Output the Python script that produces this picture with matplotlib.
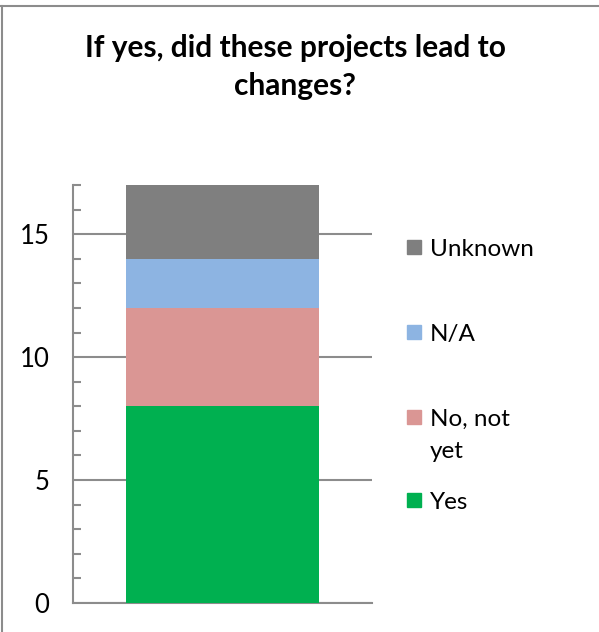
import matplotlib.pyplot as plt
from matplotlib.patches import Rectangle
from matplotlib.lines import Line2D

# Data (stacked from bottom to top)
categories = ['Yes', 'No, not\nyet', 'N/A', 'Unknown']
values = [8, 4, 2, 3]
colors = ['#00b050', '#da9694', '#8db4e2', '#7f7f7f']
y_ticks = [0, 5, 10, 15]
title = 'If yes, did these projects lead to\nchanges?'

plt.rcParams['font.family'] = ['Lato', 'DejaVu Sans']

fig = plt.figure(figsize=(5.99, 6.32), dpi=100)
W, H = 599, 632

# axes placed in pixel coordinates of the reference
ax = fig.add_axes([73 / W, (H - 603) / H, (372 - 73) / W, (603 - 185) / H])

# stacked bar
bottom = 0
for v, c in zip(values, colors):
    ax.bar(0, v, width=0.645, bottom=bottom, color=c, zorder=3)
    bottom += v

ax.set_xlim(-0.5, 0.5)
ax.set_ylim(0, 17)
ax.set_xticks([])
ax.set_yticks(y_ticks)
ax.set_yticks(range(0, 18), minor=True)
ax.yaxis.grid(True, which='major', color='#8c8c8c', linewidth=1.5, zorder=0)

for side in ['top', 'right']:
    ax.spines[side].set_visible(False)
for side in ['left', 'bottom']:
    ax.spines[side].set_color('#8c8c8c')
    ax.spines[side].set_linewidth(1.5)

ax.tick_params(axis='y', which='both', direction='in', length=6, width=1.5,
               color='#8c8c8c', labelsize=18.5, pad=17)
ax.tick_params(axis='y', which='major', length=0)

fig.text(295 / W, 1 - 67 / H, title, ha='center', va='center',
         fontsize=21.5, fontweight='bold', linespacing=1.45)

# legend drawn manually so the two-line entry aligns like the original
legend_y = [500, 417, 332, 247]
for lab, c, yy in zip(categories, colors, legend_y):
    fig.add_artist(Rectangle((407 / W, 1 - (yy + 7) / H), 14 / W, 14 / H,
                             color=c, transform=fig.transFigure))
    fig.text(430 / W, 1 - (yy - 8) / H, lab, ha='left', va='top',
             fontsize=17.5, linespacing=1.65)

# outer frame (only top and left edges visible)
fig.add_artist(Line2D([0, 1], [1 - 6 / H, 1 - 6 / H], color='#8c8c8c', lw=1.5,
                      transform=fig.transFigure))
fig.add_artist(Line2D([1.5 / W, 1.5 / W], [0, 1 - 6 / H], color='#8c8c8c', lw=1.5,
                      transform=fig.transFigure))

fig.savefig('out.png', dpi=100)
